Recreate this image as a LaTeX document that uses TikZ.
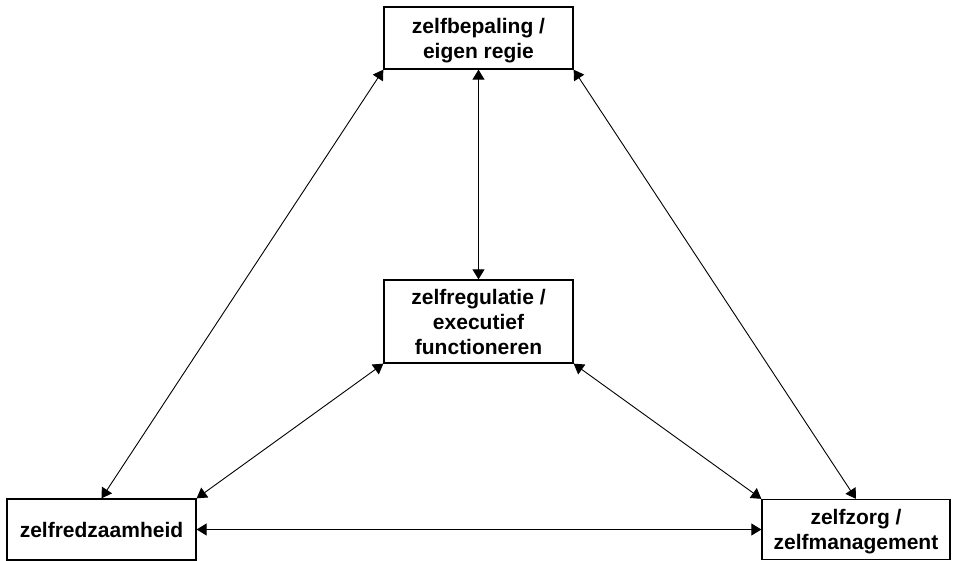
\documentclass[tikz,border=0pt]{standalone}
\usepackage{fontspec}
\setmainfont{Liberation Sans}
\usetikzlibrary{arrows.meta}
\begin{document}
\begin{tikzpicture}[x=1pt,y=-1pt,
  box/.style={draw,line width=1.3pt,rectangle,inner sep=0pt,align=center,
    font=\fontsize{21}{25}\selectfont\bfseries,minimum width=189pt},
  link/.style={line width=0.9pt,{Triangle[length=10pt,width=12pt]}-{Triangle[length=10pt,width=12pt]}}]
\useasboundingbox (0,0) rectangle (954,561);
\node[box,minimum height=62pt] (top) at (478.5,38) {\rule{0pt}{21pt}zelfbepaling /\\eigen regie};
\node[box,minimum height=83pt] (mid) at (478.5,321.5) {zelfregulatie /\\executief\\functioneren};
\node[box,minimum height=61pt] (bl) at (101.5,529.5) {zelfredzaamheid};
\node[box,minimum height=60pt,minimum width=188pt] (br) at (856,529.5) {\rule{0pt}{19pt}zelfzorg /\\zelfmanagement};
\draw[link] (top.south west) -- (bl.north);
\draw[link] (top.south east) -- (br.north);
\draw[link] (top.south) -- (mid.north);
\draw[link] (mid.south west) -- (bl.north east);
\draw[link] (mid.south east) -- (br.north west);
\draw[link] (bl.east) -- (br.west);
\end{tikzpicture}
\end{document}
